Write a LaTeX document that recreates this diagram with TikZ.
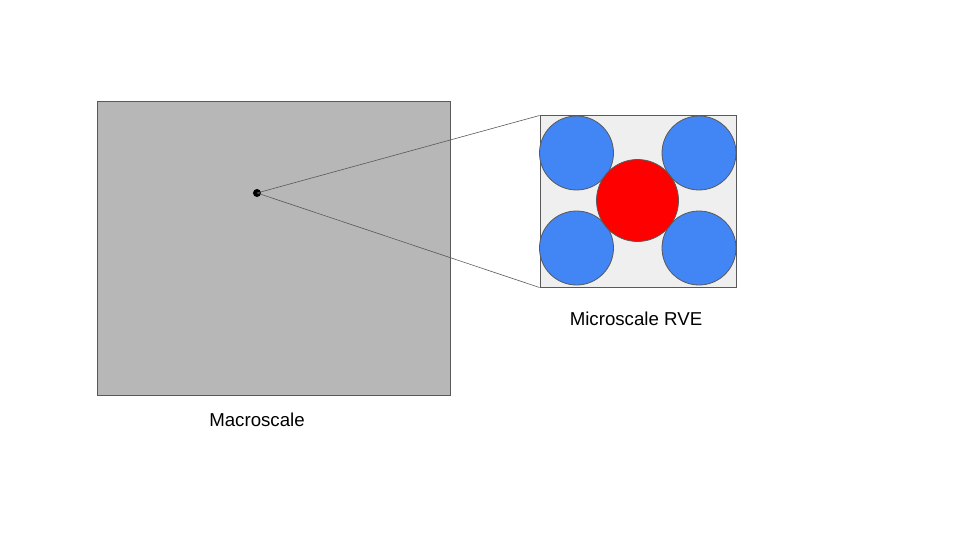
\documentclass[tikz,border=0pt]{standalone}
\usepackage{fontspec}
\setmainfont{Liberation Sans}
\definecolor{macrofill}{HTML}{B7B7B7}
\definecolor{edge}{HTML}{595959}
\definecolor{rvefill}{HTML}{EFEFEF}
\definecolor{fiber}{HTML}{4285F4}
\definecolor{inclusion}{HTML}{FF0000}
\begin{document}
\begin{tikzpicture}[x=1pt,y=-1pt,
  box/.style={draw=edge,line width=1pt},
  fiberc/.style={circle,draw=edge,line width=0.8pt,fill=fiber,inner sep=0pt,minimum size=74pt},
  redc/.style={circle,draw=edge,line width=0.8pt,fill=inclusion,inner sep=0pt,minimum size=82pt},
  lbl/.style={font=\fontsize{18.67}{22}\selectfont,text=black},
  zoomline/.style={draw=edge,line width=0.6pt}]
\useasboundingbox (0,0) rectangle (960,540);
\node[box,fill=macrofill,minimum width=353pt,minimum height=294pt,inner sep=0pt,anchor=north west] (macro) at (97,101) {};
\node[box,fill=rvefill,minimum width=196pt,minimum height=171pt,inner sep=0pt,anchor=north west] (rve) at (539.5,115.5) {};
\node[circle,fill=black,inner sep=0pt,minimum size=8pt] (pt) at (257,193) {};
\draw[zoomline] (pt.center) -- (rve.north west);
\draw[zoomline] (pt.center) -- (rve.south west);
\node[fiberc] (f1) at (576.5,153) {};
\node[fiberc] (f2) at (699,153) {};
\node[fiberc] (f3) at (576.5,248) {};
\node[fiberc] (f4) at (699,248) {};
\node[redc] (inc) at (637.5,200.5) {};
\node[lbl] (macrolbl) at (257,420) {Macroscale};
\node[lbl] (rvelbl) at (636,319) {Microscale RVE};
\end{tikzpicture}
\end{document}
